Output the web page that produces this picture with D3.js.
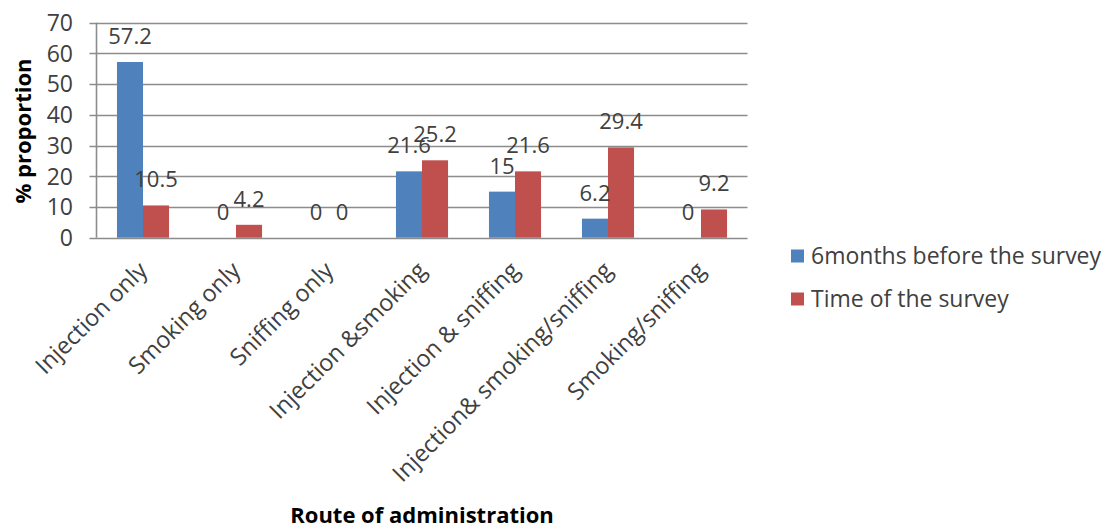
<!DOCTYPE html>
<html>
<head>
<meta charset="utf-8">
<script src="https://cdn.jsdelivr.net/npm/d3@7"></script>
<style>
  html, body { margin: 0; padding: 0; background: #fff; }
  svg { display: block; }
  text { font-family: "Open Sans", "Noto Sans", sans-serif; fill: #404040; }
</style>
</head>
<body>
<svg id="chart" width="1116" height="529"></svg>
<script>
// Route of administration, share of respondents (%)
const categories = [
  "Injection only",
  "Smoking only",
  "Sniffing only",
  "Injection &smoking",
  "Injection & sniffing",
  "Injection& smoking/sniffing",
  "Smoking/sniffing"
];
const seriesNames = ["6months before the survey", "Time of the survey"];
const before6Months = [57.2, 0, 0, 21.6, 15, 6.2, 0];
const atSurvey = [10.5, 4.2, 0, 25.2, 21.6, 29.4, 9.2];
const yTicks = [0, 10, 20, 30, 40, 50, 60, 70];
const colors = ["#4F81BD", "#C0504D"];

const series = [before6Months, atSurvey];

const svg = d3.select("#chart");
const plot = { left: 96.5, right: 747.5, top: 22.7, bottom: 237.7 };

const x = d3.scaleBand()
  .domain(categories)
  .range([plot.left, plot.right])
  .paddingInner(0)
  .paddingOuter(0);

const barW = x.bandwidth() * 0.28;
const xs = d3.scaleBand()
  .domain(d3.range(series.length))
  .range([0, barW * series.length]);

const y = d3.scaleLinear().domain([0, 70]).range([plot.bottom, plot.top]);

// horizontal gridlines with short ticks on the left
const grid = svg.append("g").attr("class", "grid");
grid.selectAll("line")
  .data(yTicks)
  .join("line")
  .attr("x1", plot.left - 7)
  .attr("x2", plot.right)
  .attr("y1", d => Math.round(y(d)) + 0.5)
  .attr("y2", d => Math.round(y(d)) + 0.5)
  .attr("stroke", "#8c8c8c")
  .attr("stroke-width", 1.6);

// y axis line
svg.append("line")
  .attr("x1", plot.left).attr("x2", plot.left)
  .attr("y1", plot.top).attr("y2", plot.bottom)
  .attr("stroke", "#8c8c8c")
  .attr("stroke-width", 1.6);

// y tick labels
svg.append("g").selectAll("text")
  .data(yTicks)
  .join("text")
  .attr("x", 73)
  .attr("y", d => y(d))
  .attr("dy", "0.36em")
  .attr("text-anchor", "end")
  .style("font-size", "23px")
  .text(d => d);

// bars
const groups = svg.append("g").selectAll("g")
  .data(categories)
  .join("g")
  .attr("transform", d => `translate(${x(d) + x.bandwidth() / 2 - barW},0)`);

groups.selectAll("rect")
  .data((d, i) => series.map((s, k) => ({ k, v: s[i] })))
  .join("rect")
  .attr("x", d => xs(d.k))
  .attr("width", xs.bandwidth())
  .attr("y", d => y(d.v))
  .attr("height", d => y(0) - y(d.v))
  .attr("fill", d => colors[d.k]);

// value labels
groups.selectAll("text.val")
  .data((d, i) => series.map((s, k) => ({ k, v: s[i] })))
  .join("text")
  .attr("class", "val")
  .attr("x", d => xs(d.k) + xs.bandwidth() / 2)
  .attr("y", d => y(d.v) - 18)
  .attr("text-anchor", "middle")
  .style("font-size", "22px")
  .text(d => d.v);

// category labels, rotated
svg.append("g").selectAll("text")
  .data(categories)
  .join("text")
  .attr("transform", d => `translate(${x(d) + x.bandwidth() / 2},266) rotate(-45)`)
  .attr("text-anchor", "end")
  .attr("dy", "0.35em")
  .style("font-size", "23.5px")
  .text(d => d);

// axis titles
svg.append("text")
  .attr("x", 422)
  .attr("y", 523)
  .attr("text-anchor", "middle")
  .style("font-size", "22px")
  .style("font-weight", "bold")
  .style("fill", "#000")
  .text("Route of administration");

svg.append("text")
  .attr("transform", "translate(23,131) rotate(-90)")
  .attr("text-anchor", "middle")
  .attr("dy", "0.35em")
  .style("font-size", "22px")
  .style("font-weight", "bold")
  .style("fill", "#000")
  .text("% proportion");

// legend
const legend = svg.append("g").selectAll("g")
  .data(seriesNames)
  .join("g")
  .attr("transform", (d, i) => `translate(791,${256 + i * 43})`);

legend.append("rect")
  .attr("x", 0).attr("y", -6.5)
  .attr("width", 13).attr("height", 13)
  .attr("fill", (d, i) => colors[i]);

legend.append("text")
  .attr("x", 20)
  .attr("dy", "0.35em")
  .style("font-size", "23px")
  .text(d => d);
</script>
</body>
</html>
